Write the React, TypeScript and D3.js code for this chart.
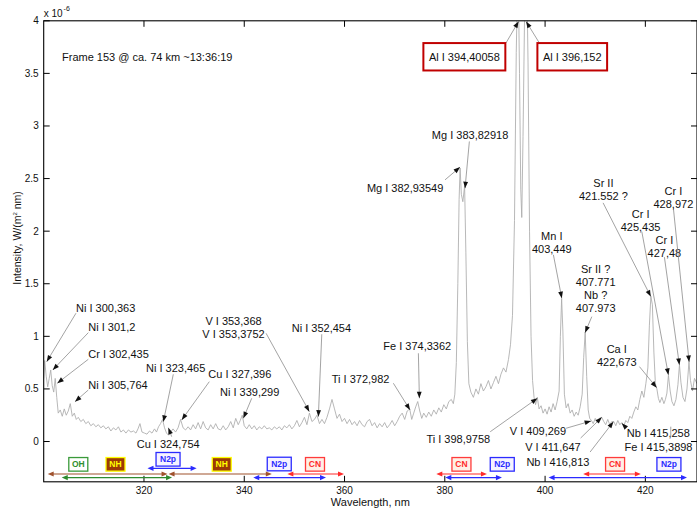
import React, { useEffect, useRef } from "react";
import * as d3 from "d3";

const W = 697;
const H = 508;
const margin = { left: 43.7, right: 0, top: 20.8, bottom: 26.2 };

// Spectrum: wavelength (nm) and intensity (x 1e-6 W/(m^2 nm))
const wavelengthNm = [
  300.0, 300.2, 300.5, 300.8, 301.1, 301.4, 301.7, 302.0, 302.3, 302.6,
  302.9, 303.3, 303.7, 304.1, 304.5, 304.9, 305.3, 305.7, 306.1, 306.5,
  306.9, 307.4, 307.9, 308.4, 308.9, 309.4, 309.9, 310.4, 310.9, 311.4,
  311.9, 312.4, 312.9, 313.4, 313.9, 314.4, 314.9, 315.4, 315.9, 316.4,
  316.9, 317.4, 317.9, 318.4, 318.8, 319.2, 319.6, 320.1, 320.6, 321.1,
  321.6, 322.1, 322.5, 322.9, 323.3, 323.7, 324.1, 324.5, 324.9, 325.3,
  325.8, 326.3, 326.8, 327.3, 327.8, 328.3, 328.8, 329.3, 329.8, 330.3,
  330.8, 331.3, 331.8, 332.3, 332.8, 333.3, 333.8, 334.3, 334.8, 335.3,
  335.8, 336.3, 336.8, 337.3, 337.8, 338.3, 338.8, 339.2, 339.6, 340.0,
  340.5, 341.0, 341.5, 342.0, 342.5, 343.0, 343.5, 344.0, 344.5, 345.0,
  345.5, 346.0, 346.5, 347.0, 347.5, 348.0, 348.5, 349.0, 349.5, 350.0,
  350.5, 351.0, 351.5, 352.0, 352.5, 353.0, 353.5, 354.0, 354.5, 355.0,
  355.5, 356.0, 356.5, 357.0, 357.5, 358.0, 358.5, 359.0, 359.5, 360.0,
  360.5, 361.0, 361.5, 362.0, 362.5, 363.0, 363.5, 364.0, 364.5, 365.0,
  365.5, 366.0, 366.5, 367.0, 367.5, 368.0, 368.5, 369.0, 369.5, 370.0,
  370.5, 371.0, 371.5, 372.0, 372.5, 373.0, 373.4, 373.8, 374.2, 374.6,
  375.0, 375.4, 375.8, 376.3, 376.8, 377.3, 377.8, 378.3, 378.8, 379.3,
  379.8, 380.3, 380.8, 381.3, 381.7, 382.0, 382.3, 382.6, 382.85, 383.05,
  383.3, 383.6, 383.95, 384.2, 384.5, 384.8, 385.2, 385.7, 386.2, 386.7,
  387.2, 387.7, 388.2, 388.7, 389.2, 389.7, 390.2, 390.7, 391.2, 391.7,
  392.2, 392.7, 393.1, 393.5, 393.9, 394.25, 394.6, 394.9, 395.15, 395.35,
  395.6, 395.95, 396.3, 396.6, 396.9, 397.2, 397.5, 397.8, 398.1, 398.45,
  398.8, 399.2, 399.6, 400.0, 400.4, 400.8, 401.2, 401.6, 402.0, 402.4,
  402.8, 403.05, 403.3, 403.55, 403.85, 404.2, 404.6, 405.0, 405.4, 405.8,
  406.2, 406.6, 407.0, 407.4, 407.7, 408.0, 408.3, 408.6, 408.9, 409.25,
  409.6, 410.0, 410.4, 410.8, 411.3, 411.7, 412.1, 412.5, 412.9, 413.3,
  413.7, 414.1, 414.5, 414.9, 415.3, 415.7, 416.1, 416.5, 416.9, 417.3,
  417.7, 418.1, 418.5, 418.9, 419.3, 419.7, 420.1, 420.5, 420.8, 421.1,
  421.4, 421.7, 422.0, 422.3, 422.6, 422.9, 423.3, 423.7, 424.0, 424.3,
  424.6, 424.95, 425.3, 425.7, 426.1, 426.5, 426.8, 427.1, 427.5, 427.9,
  428.3, 428.7, 429.0, 429.4, 429.8, 430.3,
];

const intensity = [
  0.60, 0.77, 0.62, 0.52, 0.60, 0.68, 0.53, 0.47, 0.60, 0.42,
  0.27, 0.30, 0.24, 0.31, 0.25, 0.29, 0.36, 0.24, 0.27, 0.21,
  0.23, 0.19, 0.21, 0.17, 0.19, 0.15, 0.17, 0.14, 0.16, 0.13,
  0.15, 0.12, 0.14, 0.10, 0.13, 0.11, 0.14, 0.09, 0.11, 0.08,
  0.11, 0.09, 0.10, 0.08, 0.12, 0.17, 0.09, 0.08, 0.07, 0.10,
  0.08, 0.12, 0.09, 0.14, 0.17, 0.21, 0.13, 0.08, 0.06, 0.09,
  0.12, 0.09, 0.13, 0.21, 0.13, 0.11, 0.14, 0.11, 0.16, 0.12,
  0.18, 0.12, 0.19, 0.13, 0.11, 0.16, 0.12, 0.17, 0.12, 0.11,
  0.15, 0.11, 0.14, 0.19, 0.13, 0.22, 0.16, 0.20, 0.25, 0.15,
  0.12, 0.16, 0.12, 0.15, 0.11, 0.14, 0.12, 0.15, 0.12, 0.13,
  0.11, 0.14, 0.12, 0.14, 0.11, 0.15, 0.13, 0.16, 0.12, 0.15,
  0.20, 0.14, 0.18, 0.23, 0.16, 0.27, 0.19, 0.21, 0.25, 0.17,
  0.21, 0.17, 0.23, 0.31, 0.40, 0.31, 0.22, 0.26, 0.19, 0.22,
  0.17, 0.21, 0.16, 0.19, 0.15, 0.20, 0.16, 0.14, 0.19, 0.21,
  0.15, 0.18, 0.13, 0.17, 0.14, 0.18, 0.13, 0.16, 0.20, 0.15,
  0.19, 0.24, 0.27, 0.21, 0.29, 0.31, 0.21, 0.27, 0.33, 0.38,
  0.29, 0.22, 0.27, 0.23, 0.28, 0.24, 0.30, 0.26, 0.32, 0.28,
  0.35, 0.31, 0.38, 0.40, 0.36, 0.45, 0.75, 1.50, 2.30, 2.60,
  2.35, 2.28, 2.43, 1.80, 0.95, 0.55, 0.47, 0.42, 0.50, 0.45,
  0.55, 0.48, 0.52, 0.58, 0.50, 0.56, 0.62, 0.55, 0.64, 0.70,
  0.66, 0.78, 0.92, 1.20, 2.10, 3.70, 4.60, 3.50, 2.40, 2.13,
  2.90, 4.20, 4.60, 3.60, 2.00, 1.00, 0.58, 0.42, 0.35, 0.42,
  0.31, 0.34, 0.27, 0.31, 0.26, 0.33, 0.28, 0.36, 0.30, 0.38,
  0.48, 1.00, 1.36, 1.05, 0.45, 0.32, 0.36, 0.27, 0.30, 0.24,
  0.28, 0.25, 0.33, 0.45, 0.80, 1.04, 0.62, 0.30, 0.22, 0.20,
  0.17, 0.22, 0.18, 0.22, 0.23, 0.19, 0.16, 0.21, 0.16, 0.19,
  0.19, 0.15, 0.20, 0.16, 0.18, 0.15, 0.20, 0.18, 0.24, 0.22,
  0.28, 0.33, 0.30, 0.40, 0.48, 0.42, 0.55, 0.70, 1.10, 1.38,
  1.30, 0.85, 0.55, 0.50, 0.41, 0.37, 0.42, 0.36, 0.40, 0.46,
  0.63, 0.48, 0.38, 0.34, 0.40, 0.54, 0.73, 0.56, 0.42, 0.38,
  0.50, 0.76, 0.58, 0.48, 0.60, 0.55,
];

const xDomain = [300, 430.3];
const yDomain = [-0.383, 4];
const xTicks = [320, 340, 360, 380, 400, 420];
const yTicks = [0, 0.5, 1, 1.5, 2, 2.5, 3, 3.5, 4];

const frameCaption = "Frame 153 @ ca. 74 km ~13:36:19";
const captionAt = [303.65, 3.655];

// Line identifications: text lines, label anchor (first line centre), leader tail and arrow tip
type PeakLabel = {
  text: string[];
  at: [number, number];
  anchor: "start" | "middle" | "end";
  tail?: [number, number];
  tip?: [number, number];
  boxed?: boolean;
  plain?: boolean;
};

const peakLabels: PeakLabel[] = [
  { text: ["Al I 394,40058"], at: [383.9, 3.658], anchor: "middle", tail: [392.2, 3.789], tip: [394.72, 3.994], boxed: true },
  { text: ["Al I 396,152"], at: [405.42, 3.658], anchor: "middle", tail: [398.86, 3.789], tip: [396.21, 3.994], boxed: true },
  { text: ["Mg I 383,82918"], at: [385.04, 2.916], anchor: "middle", tail: [384.9, 2.853], tip: [384.04, 2.409] },
  { text: ["Mg I 382,93549"], at: [379.71, 2.409], anchor: "end", tail: [380.05, 2.488], tip: [383.04, 2.609] },
  { text: ["Mn I", "403,449"], at: [401.34, 1.955], anchor: "middle", tail: [401.66, 1.775], tip: [403.33, 1.363] },
  { text: ["Sr II ?", "407.771", "Nb ?", "407.973"], at: [410.09, 1.641], anchor: "middle", tail: [409.32, 1.187], tip: [407.98, 1.035] },
  { text: ["Sr II", "421.552 ?"], at: [411.63, 2.457], anchor: "middle", tail: [411.57, 2.269], tip: [421.09, 1.378] },
  { text: ["Cr I", "425,435"], at: [419.05, 2.165], anchor: "middle", tail: [419.29, 1.996], tip: [424.6, 0.633] },
  { text: ["Cr I", "427,48"], at: [423.8, 1.917], anchor: "middle", tail: [423.8, 1.753], tip: [426.79, 0.728] },
  { text: ["Cr I", "428,972"], at: [425.59, 2.377], anchor: "middle", tail: [425.59, 2.219], tip: [428.73, 0.756] },
  { text: ["Ca I", "422,673"], at: [414.3, 0.88], anchor: "middle", tail: [418.82, 0.712], tip: [422.25, 0.512] },
  { text: ["Ti I 398,9758"], at: [389.06, 0.021], anchor: "end", tail: [389.06, 0.093], tip: [398.46, 0.411] },
  { text: ["V I 409,269"], at: [404.19, 0.1], anchor: "end", tail: [404.19, 0.126], tip: [409.18, 0.195] },
  { text: ["V I 411,647"], at: [407.09, -0.049], anchor: "end", tail: [407.09, 0.033], tip: [411.31, 0.23] },
  { text: ["Nb I 416,813"], at: [408.84, -0.192], anchor: "end", tail: [408.98, -0.1], tip: [413.63, 0.188] },
  { text: ["Nb I 415,258"], at: [416.3, 0.084], anchor: "start", tail: [416.2, 0.128], tip: [415.3, 0.173] },
  { text: ["Fe I 415,3898"], at: [415.86, -0.055], anchor: "start", tail: [425.07, 0.045], tip: [425.07, 0.141], plain: true },
  { text: ["Cu I 324,754"], at: [318.55, -0.027], anchor: "start", tail: [325.53, 0.046], tip: [324.86, 0.131] },
  { text: ["Ni I 300,363"], at: [306.44, 1.267], anchor: "start", tail: [306.44, 1.22], tip: [300.6, 0.759] },
  { text: ["Ni I 301,2"], at: [308.9, 1.083], anchor: "start", tail: [308.9, 1.035], tip: [301.8, 0.68] },
  { text: ["Cr I 302,435"], at: [308.9, 0.83], anchor: "start", tail: [308.9, 0.782], tip: [302.71, 0.554] },
  { text: ["Ni I 305,764"], at: [308.9, 0.538], anchor: "start", tail: [308.9, 0.49], tip: [306.24, 0.379] },
  { text: ["Ni I 323,465"], at: [320.41, 0.696], anchor: "start", tail: [325.85, 0.639], tip: [323.86, 0.188] },
  { text: ["Cu I 327,396"], at: [332.83, 0.639], anchor: "start", tail: [333.03, 0.569], tip: [327.53, 0.205] },
  { text: ["Ni I 339,299"], at: [335.17, 0.468], anchor: "start", tail: [341.49, 0.411], tip: [339.82, 0.221] },
  { text: ["V I 353,368", "V I 353,3752"], at: [337.86, 1.147], anchor: "middle", tail: [344.35, 1.029], tip: [352.98, 0.284] },
  { text: ["Ni I 352,454"], at: [349.47, 1.077], anchor: "start", tail: [355.46, 1.02], tip: [354.78, 0.236] },
  { text: ["Fe I 374,3362"], at: [367.74, 0.902], anchor: "start", tail: [374.73, 0.839], tip: [374.93, 0.411] },
  { text: ["Ti I 372,982"], at: [357.45, 0.595], anchor: "start", tail: [369.74, 0.554], tip: [373.07, 0.3] },
];

// Molecular band systems: label box position and wavelength span of the arrow
type Band = { name: string; kind: "OH" | "NH" | "N2p" | "CN"; box: [number, number]; span: [number, number]; level: number };

const bands: Band[] = [
  { name: "OH", kind: "OH", box: [306.9, -0.217], span: [303.6, 325.6], level: -0.343 },
  { name: "NH", kind: "NH", box: [314.32, -0.217], span: [300.8, 324.7], level: -0.309 },
  { name: "NH", kind: "NH", box: [335.51, -0.217], span: [324.9, 345.5], level: -0.309 },
  { name: "N2p", kind: "N2p", box: [324.8, -0.169], span: [320.7, 330.5], level: -0.255 },
  { name: "N2p", kind: "N2p", box: [346.98, -0.214], span: [341.8, 356.3], level: -0.343 },
  { name: "CN", kind: "CN", box: [354.11, -0.217], span: [348.6, 359.9], level: -0.309 },
  { name: "CN", kind: "CN", box: [383.32, -0.217], span: [378.3, 388.4], level: -0.309 },
  { name: "N2p", kind: "N2p", box: [391.46, -0.217], span: [380.1, 391.4], level: -0.343 },
  { name: "CN", kind: "CN", box: [413.96, -0.217], span: [407.6, 419.1], level: -0.309 },
  { name: "N2p", kind: "N2p", box: [424.7, -0.217], span: [400.7, 428.3], level: -0.343 },
];

const bandStyle: Record<Band["kind"], { stroke: string; fill: string; text: string; arrow: string; width: number }> = {
  OH: { stroke: "#3a9a3a", fill: "#ffffff", text: "#2f8f2f", arrow: "#2e8b2e", width: 19 },
  NH: { stroke: "#ffff00", fill: "#9c3a06", text: "#ffff00", arrow: "#a0522d", width: 19 },
  N2p: { stroke: "#2b2bff", fill: "#f6f3ff", text: "#2b2bff", arrow: "#2b2bff", width: 24 },
  CN: { stroke: "#ff3b3b", fill: "#fff0e6", text: "#ff2b2b", arrow: "#ff2b2b", width: 19 },
};

const FONT = "'Liberation Sans', Arial, Helvetica, sans-serif";

function arrowHead(x1: number, y1: number, x2: number, y2: number, len: number, half: number) {
  const a = Math.atan2(y2 - y1, x2 - x1);
  const bx = x2 - len * Math.cos(a);
  const by = y2 - len * Math.sin(a);
  const px = -Math.sin(a) * half;
  const py = Math.cos(a) * half;
  return `M${x2},${y2}L${bx + px},${by + py}L${bx - px},${by - py}Z`;
}

export default function App() {
  const ref = useRef<SVGSVGElement>(null);

  useEffect(() => {
    const svg = d3.select(ref.current!);
    svg.selectAll("*").remove();

    const x = d3.scaleLinear().domain(xDomain).range([margin.left, W - margin.right]);
    const y = d3.scaleLinear().domain(yDomain).range([H - margin.bottom, margin.top]);
    const [x0, x1] = x.range();
    const [y0, y1] = y.range();

    svg.append("rect").attr("width", W).attr("height", H).attr("fill", "#fff");

    svg.append("defs").append("clipPath").attr("id", "plotClip")
      .append("rect").attr("x", x0).attr("y", y1).attr("width", x1 - x0).attr("height", y0 - y1);

    // spectrum
    const pts = wavelengthNm.map((w, i) => [w, intensity[i]] as [number, number]);
    svg.append("path")
      .attr("clip-path", "url(#plotClip)")
      .attr("d", d3.line<[number, number]>().x((d) => x(d[0])).y((d) => y(d[1]))(pts)!)
      .attr("fill", "none")
      .attr("stroke", "#ababab")
      .attr("stroke-width", 0.85);

    // axes box
    const axisG = svg.append("g");
    axisG.append("rect").attr("x", x0).attr("y", y1).attr("width", x1 - x0).attr("height", y0 - y1)
      .attr("fill", "none").attr("stroke", "#000").attr("stroke-width", 1.1);

    const tickLen = 6;
    xTicks.forEach((t) => {
      const px = x(t);
      axisG.append("line").attr("x1", px).attr("x2", px).attr("y1", y0).attr("y2", y0 - tickLen).attr("stroke", "#000");
      axisG.append("line").attr("x1", px).attr("x2", px).attr("y1", y1).attr("y2", y1 + tickLen).attr("stroke", "#000");
      axisG.append("text").attr("x", px).attr("y", y0 + 12.3).attr("text-anchor", "middle")
        .attr("font-size", 10).attr("font-family", FONT).attr("fill", "#111").text(String(t));
    });
    yTicks.forEach((t) => {
      const py = y(t);
      axisG.append("line").attr("x1", x0).attr("x2", x0 + tickLen).attr("y1", py).attr("y2", py).attr("stroke", "#000");
      axisG.append("line").attr("x1", x1).attr("x2", x1 - tickLen).attr("y1", py).attr("y2", py).attr("stroke", "#000");
      axisG.append("text").attr("x", x0 - 5).attr("y", py).attr("dy", "0.35em").attr("text-anchor", "end")
        .attr("font-size", 10).attr("font-family", FONT).attr("fill", "#111").text(String(t));
    });

    // exponent
    const ex = axisG.append("text").attr("x", x0).attr("y", y1 - 3.5).attr("font-size", 10)
      .attr("font-family", FONT).attr("fill", "#111");
    ex.append("tspan").text("x 10");
    ex.append("tspan").attr("dy", -6).attr("dx", 1).attr("font-size", 7).text("-6");

    // axis titles
    axisG.append("text").attr("x", (x0 + x1) / 2).attr("y", H - 1.8).attr("text-anchor", "middle")
      .attr("font-size", 11).attr("font-family", FONT).attr("fill", "#111").text("Wavelength, nm");
    const yl = axisG.append("text").attr("transform", `translate(21,238) rotate(-90)`)
      .attr("text-anchor", "middle").attr("font-size", 10.5).attr("font-family", FONT).attr("fill", "#111");
    yl.append("tspan").text("Intensity,  W/(m");
    yl.append("tspan").attr("dy", -4).attr("font-size", 6).text("2");
    yl.append("tspan").attr("dy", 4).text(" nm)");

    // caption
    svg.append("text").attr("x", x(captionAt[0])).attr("y", y(captionAt[1])).attr("dy", "0.35em")
      .attr("font-size", 11).attr("font-family", FONT).attr("fill", "#111").text(frameCaption);

    // peak identifications
    const ann = svg.append("g");
    peakLabels.forEach((p) => {
      if (p.tail && p.tip) {
        const ax = x(p.tail[0]), ay = y(p.tail[1]);
        const bx = x(p.tip[0]), by = y(p.tip[1]);
        ann.append("line").attr("x1", ax).attr("y1", ay).attr("x2", bx).attr("y2", by)
          .attr("stroke", "#8c8c8c").attr("stroke-width", 0.8);
        if (!p.plain) {
          ann.append("path").attr("d", arrowHead(ax, ay, bx, by, 6.5, 2.4)).attr("fill", "#111");
        }
      }
      const t = ann.append("text").attr("x", x(p.at[0])).attr("y", y(p.at[1])).attr("text-anchor", p.anchor)
        .attr("font-size", 11).attr("font-family", FONT).attr("fill", "#111");
      p.text.forEach((line, i) => {
        t.append("tspan").attr("x", x(p.at[0])).attr("dy", i === 0 ? "0.35em" : 13).text(line);
      });
      if (p.boxed) {
        const bb = (t.node() as SVGTextElement).getBBox();
        ann.insert("rect", () => t.node())
          .attr("x", bb.x - 5.5).attr("y", y(p.at[1]) - 13.7).attr("width", bb.width + 11).attr("height", 27.4)
          .attr("fill", "#fff").attr("stroke", "#c00000").attr("stroke-width", 2);
      }
    });

    // molecular bands
    const bandG = svg.append("g");
    bands.forEach((b) => {
      const st = bandStyle[b.kind];
      const ax = x(b.span[0]), bx = x(b.span[1]), ly = y(b.level);
      bandG.append("line").attr("x1", ax + 3).attr("x2", bx - 3).attr("y1", ly).attr("y2", ly)
        .attr("stroke", st.arrow).attr("stroke-width", 1.1);
      bandG.append("path").attr("d", arrowHead(bx, ly, ax, ly, 6, 2.6)).attr("fill", st.arrow);
      bandG.append("path").attr("d", arrowHead(ax, ly, bx, ly, 6, 2.6)).attr("fill", st.arrow);
    });
    bands.forEach((b) => {
      const st = bandStyle[b.kind];
      const cx = x(b.box[0]), cy = y(b.box[1]);
      bandG.append("rect").attr("x", cx - st.width / 2).attr("y", cy - 6.8).attr("width", st.width).attr("height", 13.6)
        .attr("fill", st.fill).attr("stroke", st.stroke).attr("stroke-width", 1.3);
      bandG.append("text").attr("x", cx).attr("y", cy).attr("dy", "0.36em").attr("text-anchor", "middle")
        .attr("font-size", 8.5).attr("font-weight", "bold").attr("font-family", FONT).attr("fill", st.text)
        .text(b.name);
    });
  }, []);

  return (
    <div style={{ position: "absolute", left: 0, top: 0 }}>
      <svg ref={ref} width={W} height={H} style={{ display: "block" }} />
    </div>
  );
}
